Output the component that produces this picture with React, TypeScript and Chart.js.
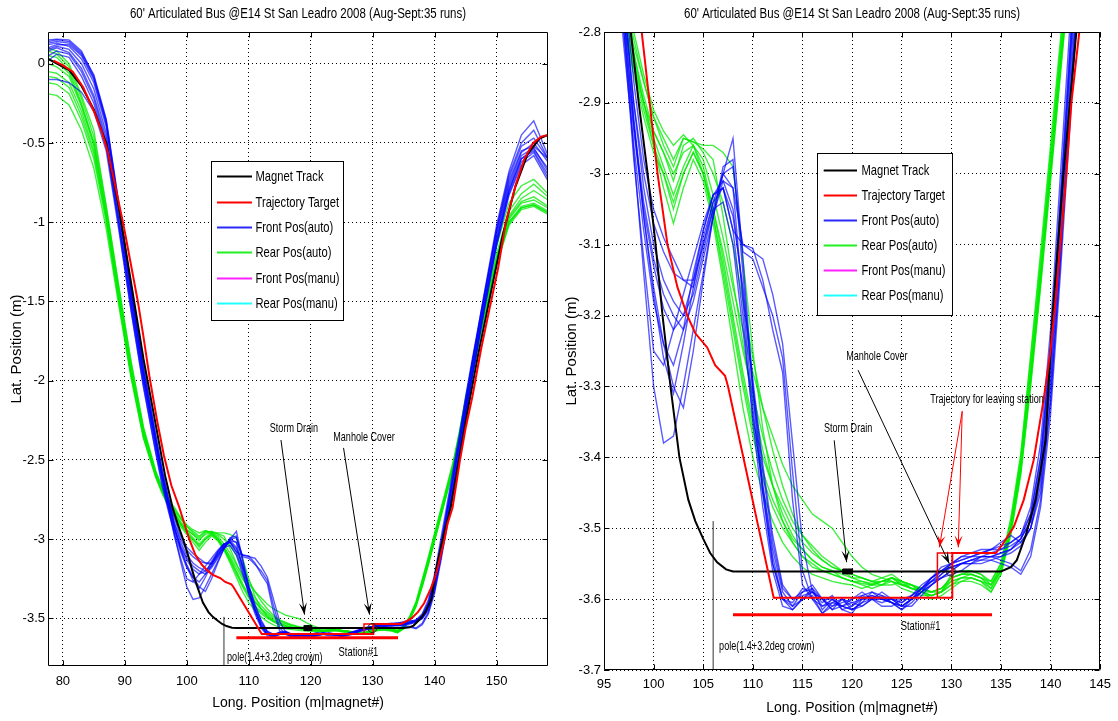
import React, { useEffect, useRef } from 'react';
import { Chart, registerables } from 'chart.js';

Chart.register(...registerables);

// ---------- text ----------
const titleText = "60' Articulated Bus @E14 St San Leadro 2008 (Aug-Sept:35 runs)";
const xAxisTitle = 'Long. Position (m|magnet#)';
const yAxisTitle = 'Lat. Position (m)';
const legendLabels = ['Magnet Track', 'Trajectory Target', 'Front Pos(auto)', 'Rear Pos(auto)', 'Front Pos(manu)', 'Rear Pos(manu)'];
const legendColors = ['#000000', '#ff0000', '#2a2aff', '#22f022', '#ff22ff', '#22ffff'];

// ---------- ticks ----------
const leftXTicks = [80, 90, 100, 110, 120, 130, 140, 150];
const leftYTicks = [0, -0.5, -1, -1.5, -2, -2.5, -3, -3.5];
const rightXTicks = [95, 100, 105, 110, 115, 120, 125, 130, 135, 140, 145];
const rightYTicks = [-2.8, -2.9, -3, -3.1, -3.2, -3.3, -3.4, -3.5, -3.6, -3.7];

// ---------- data ----------
// common longitudinal sample positions of the recorded runs
const posX = [77.6, 79, 81, 83, 85, 87, 89, 91, 93, 95,
  96, 97, 98, 99, 100, 101, 102, 103, 104, 105,
  106, 107, 108, 109, 110, 111, 112, 113, 114, 115,
  116, 117, 118, 119, 120, 121, 122, 123, 124, 125,
  126, 127, 128, 129, 130, 131, 132, 133, 134, 135,
  136, 137, 138, 139, 140, 141, 142, 143, 144, 145,
  146, 148, 150, 152, 154, 156, 158.3];

// Front Pos(auto) runs
const front1 = [0.15, 0.155, 0.15, 0.08, -0.08, -0.36, -0.88, -1.42, -1.92, -2.36,
  -2.58, -2.78, -2.97, -3.14, -3.3, -3.38, -3.37, -3.3, -3.22, -3.14,
  -3.06, -3.0, -2.95, -3.12, -3.3, -3.44, -3.54, -3.6, -3.61, -3.59,
  -3.585, -3.615, -3.6, -3.61, -3.6, -3.595, -3.6, -3.6, -3.605, -3.61,
  -3.6, -3.59, -3.58, -3.565, -3.55, -3.545, -3.54, -3.54, -3.535, -3.53,
  -3.52, -3.51, -3.48, -3.4, -3.25, -3.04, -2.82, -2.6, -2.38, -2.14,
  -1.9, -1.45, -1.02, -0.68, -0.45, -0.36, -0.58];
const front2 = [0.12, 0.13, 0.11, 0.03, -0.12, -0.4, -0.92, -1.46, -1.95, -2.38,
  -2.6, -2.77, -2.93, -3.06, -3.17, -3.26, -3.31, -3.24, -3.16, -3.09,
  -3.04, -3.0, -3.02, -3.18, -3.33, -3.45, -3.55, -3.6, -3.605, -3.585,
  -3.59, -3.605, -3.595, -3.615, -3.61, -3.6, -3.595, -3.6, -3.6, -3.605,
  -3.595, -3.585, -3.575, -3.56, -3.555, -3.55, -3.545, -3.54, -3.54, -3.535,
  -3.53, -3.515, -3.49, -3.42, -3.27, -3.06, -2.84, -2.62, -2.4, -2.16,
  -1.93, -1.5, -1.08, -0.76, -0.56, -0.5, -0.62];
const front3 = [0.08, 0.1, 0.07, -0.03, -0.2, -0.47, -0.98, -1.52, -2.0, -2.42,
  -2.62, -2.8, -2.98, -3.12, -3.25, -3.27, -3.22, -3.17, -3.12, -3.07,
  -3.03, -3.02, -3.08, -3.2, -3.35, -3.47, -3.56, -3.61, -3.615, -3.6,
  -3.595, -3.62, -3.605, -3.6, -3.615, -3.605, -3.59, -3.595, -3.605, -3.615,
  -3.6, -3.59, -3.58, -3.57, -3.56, -3.55, -3.55, -3.545, -3.545, -3.54,
  -3.535, -3.525, -3.5, -3.44, -3.3, -3.1, -2.88, -2.66, -2.44, -2.2,
  -1.97, -1.54, -1.12, -0.8, -0.6, -0.54, -0.66];
const front4 = [0.05, 0.08, 0.06, -0.05, -0.22, -0.5, -1.02, -1.55, -2.03, -2.45,
  -2.64, -2.8, -2.94, -3.05, -3.13, -3.19, -3.22, -3.2, -3.15, -3.08,
  -3.03, -3.01, -3.05, -3.17, -3.3, -3.42, -3.52, -3.585, -3.6, -3.59,
  -3.58, -3.6, -3.61, -3.605, -3.6, -3.59, -3.6, -3.605, -3.6, -3.605,
  -3.595, -3.58, -3.57, -3.56, -3.55, -3.545, -3.54, -3.535, -3.53, -3.525,
  -3.52, -3.51, -3.47, -3.38, -3.22, -3.0, -2.78, -2.56, -2.34, -2.1,
  -1.88, -1.46, -1.06, -0.74, -0.55, -0.52, -0.6];
const front5 = [0.1, 0.12, 0.12, 0.05, -0.1, -0.38, -0.9, -1.44, -1.94, -2.37,
  -2.57, -2.73, -2.87, -2.98, -3.05, -3.09, -3.12, -3.15, -3.16, -3.1,
  -3.05, -3.04, -3.1, -3.22, -3.34, -3.44, -3.53, -3.59, -3.61, -3.6,
  -3.59, -3.6, -3.615, -3.61, -3.605, -3.6, -3.6, -3.61, -3.61, -3.6,
  -3.6, -3.59, -3.575, -3.565, -3.555, -3.55, -3.545, -3.545, -3.54, -3.54,
  -3.53, -3.52, -3.5, -3.43, -3.29, -3.08, -2.86, -2.63, -2.41, -2.17,
  -1.95, -1.52, -1.1, -0.78, -0.58, -0.53, -0.68];
const front6 = [0.02, 0.06, 0.04, -0.08, -0.25, -0.52, -1.0, -1.5, -1.98, -2.4,
  -2.6, -2.76, -2.9, -3.0, -3.07, -3.11, -3.14, -3.15, -3.15, -3.1,
  -3.04, -3.02, -3.08, -3.1, -3.105, -3.15, -3.22, -3.28, -3.46, -3.58,
  -3.6, -3.62, -3.61, -3.6, -3.61, -3.595, -3.59, -3.6, -3.605, -3.615,
  -3.605, -3.59, -3.57, -3.555, -3.55, -3.54, -3.535, -3.53, -3.53, -3.52,
  -3.51, -3.52, -3.5, -3.45, -3.32, -3.12, -2.9, -2.68, -2.46, -2.22,
  -1.99, -1.55, -1.14, -0.82, -0.62, -0.56, -0.72];
const front7 = [0.13, 0.14, 0.13, 0.06, -0.09, -0.37, -0.9, -1.45, -1.95, -2.38,
  -2.58, -2.75, -2.9, -3.02, -3.1, -3.15, -3.18, -3.2, -3.17, -3.11,
  -3.05, -3.0, -2.99, -3.11, -3.12, -3.16, -3.2, -3.26, -3.42, -3.56,
  -3.6, -3.61, -3.6, -3.615, -3.62, -3.6, -3.595, -3.6, -3.6, -3.61,
  -3.6, -3.585, -3.575, -3.57, -3.565, -3.56, -3.55, -3.55, -3.545, -3.55,
  -3.555, -3.565, -3.54, -3.47, -3.34, -3.14, -2.92, -2.7, -2.47, -2.23,
  -2.0, -1.56, -1.15, -0.83, -0.64, -0.58, -0.74];
const front8 = [-0.1, -0.1, -0.12, -0.18, -0.3, -0.55, -1.04, -1.56, -2.04, -2.46,
  -2.66, -2.82, -2.96, -3.08, -3.18, -3.24, -3.27, -3.22, -3.14, -3.08,
  -3.03, -3.02, -3.06, -3.16, -3.29, -3.41, -3.51, -3.58, -3.6, -3.595,
  -3.59, -3.6, -3.6, -3.61, -3.615, -3.61, -3.6, -3.595, -3.6, -3.61,
  -3.61, -3.595, -3.58, -3.57, -3.56, -3.55, -3.55, -3.54, -3.54, -3.535,
  -3.53, -3.515, -3.48, -3.4, -3.24, -3.03, -2.81, -2.58, -2.36, -2.12,
  -1.9, -1.48, -1.05, -0.72, -0.52, -0.47, -0.6];
const front9 = [0.14, 0.15, 0.14, 0.07, -0.07, -0.35, -0.87, -1.41, -1.9, -2.34,
  -2.55, -2.74, -2.92, -3.06, -3.16, -3.24, -3.3, -3.33, -3.25, -3.15,
  -3.06, -2.99, -2.98, -3.14, -3.31, -3.45, -3.55, -3.6, -3.615, -3.6,
  -3.585, -3.6, -3.615, -3.6, -3.605, -3.61, -3.6, -3.59, -3.6, -3.6,
  -3.595, -3.585, -3.57, -3.56, -3.55, -3.54, -3.54, -3.535, -3.53, -3.53,
  -3.525, -3.515, -3.49, -3.41, -3.26, -3.05, -2.83, -2.61, -2.39, -2.15,
  -1.91, -1.47, -1.04, -0.7, -0.5, -0.42, -0.6];
const front10 = [0.09, 0.11, 0.09, 0.0, -0.16, -0.44, -0.96, -1.5, -1.99, -2.41,
  -2.61, -2.78, -2.93, -3.04, -3.12, -3.17, -3.2, -3.22, -3.18, -3.12,
  -3.06, -3.01, -3.02, -3.1, -3.11, -3.12, -3.17, -3.24, -3.38, -3.52,
  -3.59, -3.61, -3.605, -3.61, -3.615, -3.605, -3.6, -3.6, -3.605, -3.61,
  -3.6, -3.585, -3.57, -3.56, -3.555, -3.55, -3.545, -3.54, -3.54, -3.545,
  -3.55, -3.56, -3.53, -3.46, -3.32, -3.12, -2.9, -2.68, -2.45, -2.21,
  -1.98, -1.53, -1.12, -0.8, -0.6, -0.55, -0.7];

// Rear Pos(auto) runs
const rear1 = [0.1, 0.08, 0.0, -0.2, -0.42, -0.9, -1.4, -1.88, -2.3, -2.58,
  -2.67, -2.75, -2.8, -2.86, -2.91, -2.94, -2.96, -2.945, -2.96, -3.0,
  -3.06, -3.14, -3.22, -3.3, -3.37, -3.43, -3.47, -3.5, -3.52, -3.54,
  -3.55, -3.56, -3.565, -3.57, -3.575, -3.578, -3.58, -3.575, -3.575, -3.58,
  -3.585, -3.585, -3.59, -3.585, -3.575, -3.57, -3.565, -3.57, -3.575, -3.55,
  -3.49, -3.4, -3.26, -3.12, -2.97, -2.82, -2.67, -2.52, -2.33, -2.12,
  -1.92, -1.55, -1.22, -0.96, -0.85, -0.8, -0.86];
const rear2 = [-0.19, -0.2, -0.26, -0.42, -0.66, -1.04, -1.52, -1.98, -2.36, -2.61,
  -2.7, -2.77, -2.83, -2.9, -2.96, -3.02, -3.07, -3.02, -2.98, -3.01,
  -3.07, -3.15, -3.24, -3.33, -3.4, -3.45, -3.49, -3.52, -3.54, -3.555,
  -3.565, -3.57, -3.575, -3.578, -3.58, -3.585, -3.58, -3.575, -3.57, -3.578,
  -3.585, -3.59, -3.595, -3.59, -3.58, -3.575, -3.57, -3.575, -3.58, -3.56,
  -3.5, -3.41, -3.28, -3.14, -2.99, -2.84, -2.69, -2.54, -2.35, -2.15,
  -1.95, -1.58, -1.25, -1.0, -0.9, -0.88, -0.93];
const rear3 = [0.05, 0.04, -0.04, -0.25, -0.5, -0.94, -1.44, -1.92, -2.32, -2.59,
  -2.68, -2.76, -2.82, -2.87, -2.92, -2.96, -2.99, -2.95, -2.955, -2.96,
  -2.96, -2.97, -2.99, -3.12, -3.25, -3.36, -3.44, -3.49, -3.52, -3.54,
  -3.555, -3.56, -3.565, -3.57, -3.575, -3.575, -3.58, -3.58, -3.575, -3.58,
  -3.58, -3.585, -3.59, -3.585, -3.57, -3.565, -3.56, -3.565, -3.58, -3.555,
  -3.495, -3.405, -3.27, -3.13, -2.98, -2.83, -2.68, -2.53, -2.34, -2.13,
  -1.93, -1.56, -1.2, -0.93, -0.82, -0.76, -0.84];
const rear4 = [-0.05, -0.06, -0.12, -0.3, -0.55, -0.97, -1.47, -1.95, -2.34, -2.6,
  -2.7, -2.78, -2.85, -2.9, -2.94, -2.97, -3.0, -2.97, -2.96, -2.98,
  -3.03, -3.09, -3.16, -3.22, -3.28, -3.33, -3.37, -3.41, -3.44, -3.46,
  -3.48, -3.49, -3.5, -3.52, -3.54, -3.555, -3.565, -3.57, -3.575, -3.585,
  -3.59, -3.595, -3.595, -3.59, -3.57, -3.565, -3.565, -3.57, -3.585, -3.56,
  -3.505, -3.42, -3.29, -3.15, -3.0, -2.85, -2.7, -2.55, -2.37, -2.17,
  -1.97, -1.6, -1.27, -1.02, -0.92, -0.9, -0.95];
const rear5 = [0.0, -0.02, -0.08, -0.27, -0.52, -0.95, -1.45, -1.93, -2.32, -2.59,
  -2.69, -2.77, -2.84, -2.9, -2.95, -2.99, -3.03, -2.99, -2.96, -2.99,
  -3.05, -3.12, -3.2, -3.28, -3.35, -3.4, -3.44, -3.47, -3.5, -3.52,
  -3.535, -3.545, -3.555, -3.56, -3.565, -3.57, -3.575, -3.57, -3.565, -3.575,
  -3.58, -3.585, -3.59, -3.59, -3.575, -3.57, -3.57, -3.575, -3.59, -3.565,
  -3.5, -3.415, -3.285, -3.145, -2.995, -2.845, -2.695, -2.545, -2.36, -2.16,
  -1.96, -1.58, -1.24, -0.98, -0.88, -0.86, -0.91];
const rear6 = [0.08, 0.06, -0.02, -0.22, -0.46, -0.9, -1.4, -1.88, -2.29, -2.57,
  -2.67, -2.75, -2.81, -2.87, -2.92, -2.95, -2.98, -2.95, -2.955, -2.965,
  -2.98, -3.06, -3.15, -3.24, -3.32, -3.39, -3.44, -3.48, -3.51, -3.53,
  -3.545, -3.555, -3.56, -3.565, -3.57, -3.57, -3.575, -3.58, -3.58, -3.575,
  -3.58, -3.59, -3.595, -3.59, -3.565, -3.56, -3.56, -3.565, -3.575, -3.55,
  -3.485, -3.395, -3.255, -3.11, -2.96, -2.81, -2.66, -2.51, -2.32, -2.11,
  -1.9, -1.5, -1.15, -0.88, -0.77, -0.73, -0.82];
const rear7 = [-0.12, -0.13, -0.19, -0.36, -0.6, -1.0, -1.5, -1.97, -2.36, -2.61,
  -2.71, -2.79, -2.86, -2.92, -2.97, -3.0, -3.04, -3.0, -2.97, -3.0,
  -3.06, -3.13, -3.21, -3.29, -3.36, -3.42, -3.46, -3.49, -3.515, -3.53,
  -3.545, -3.555, -3.56, -3.57, -3.575, -3.58, -3.585, -3.58, -3.57, -3.575,
  -3.585, -3.59, -3.6, -3.595, -3.585, -3.575, -3.575, -3.58, -3.59, -3.565,
  -3.51, -3.425, -3.3, -3.16, -3.01, -2.86, -2.71, -2.56, -2.38, -2.18,
  -1.98, -1.6, -1.26, -1.0, -0.91, -0.89, -0.94];
const rear8 = [0.03, 0.01, -0.06, -0.26, -0.5, -0.93, -1.43, -1.91, -2.31, -2.58,
  -2.68, -2.76, -2.83, -2.89, -2.94, -2.97, -3.01, -2.96, -2.95, -2.97,
  -3.0, -3.04, -3.1, -3.18, -3.26, -3.33, -3.39, -3.44, -3.48, -3.51,
  -3.53, -3.545, -3.555, -3.56, -3.57, -3.575, -3.578, -3.575, -3.57, -3.58,
  -3.585, -3.59, -3.59, -3.585, -3.57, -3.565, -3.565, -3.57, -3.58, -3.555,
  -3.497, -3.41, -3.28, -3.14, -2.99, -2.84, -2.69, -2.54, -2.35, -2.14,
  -1.94, -1.57, -1.23, -0.97, -0.87, -0.84, -0.9];
const rear9 = [-0.08, -0.09, -0.15, -0.33, -0.57, -0.98, -1.48, -1.96, -2.35, -2.6,
  -2.7, -2.78, -2.85, -2.91, -2.96, -3.0, -3.05, -3.0, -2.97, -3.0,
  -3.05, -3.11, -3.18, -3.25, -3.31, -3.37, -3.42, -3.46, -3.49, -3.51,
  -3.525, -3.54, -3.55, -3.56, -3.565, -3.57, -3.575, -3.575, -3.57, -3.575,
  -3.58, -3.59, -3.595, -3.59, -3.58, -3.57, -3.57, -3.575, -3.585, -3.56,
  -3.505, -3.42, -3.295, -3.155, -3.005, -2.855, -2.705, -2.555, -2.37, -2.17,
  -1.97, -1.59, -1.26, -1.01, -0.91, -0.89, -0.94];

// Magnet Track
const magnetX = [77.6, 81, 83, 85, 87, 89, 91, 93, 95, 96.5, 97.7, 98.5, 99.4, 100.2, 100.9,
  101.7, 102.6, 103.5, 104.2, 105, 105.7, 106.4, 107.3, 108, 135, 136, 136.6, 137.5, 138.5,
  139.5, 140.2, 141.3, 142.6, 143.4, 145, 147, 149, 151, 153, 155, 157, 158.3];
const magnetY = [0.03, -0.04, -0.14, -0.29, -0.5, -0.9, -1.38, -1.86, -2.28, -2.6, -2.8, -2.9, -3.0, -3.1, -3.2,
  -3.3, -3.4, -3.46, -3.49, -3.515, -3.535, -3.548, -3.558, -3.561, -3.561, -3.555, -3.545, -3.51, -3.46,
  -3.376, -3.2, -3.0, -2.8, -2.62, -2.26, -1.84, -1.46, -1.08, -0.78, -0.57, -0.47, -0.45];

// Trajectory Target
const targetX = [78.5, 80, 81.6, 83.3, 85, 86.2, 87.2, 88.5, 89.8, 91, 92.1, 93, 94, 95.2, 96.3,
  97.5, 98.8, 99.6, 100.4, 101.4, 102.4, 103.4, 104.2, 105.4, 106.2, 107.2, 107.5, 112.1, 130.1,
  130.1, 134.5, 135.1, 136.3, 137.3, 138.3, 139.3, 140, 140.5, 141.6, 142.1, 142.9, 143.5, 144.1,
  145, 146.1, 147.5, 149, 150.2, 151.5, 153.2, 154.5, 155.9, 157.2, 158.3];
const targetY = [0.02, -0.01, -0.05, -0.15, -0.3, -0.42, -0.55, -0.78, -1.02, -1.27, -1.5, -1.72, -1.98, -2.25, -2.47,
  -2.66, -2.8, -2.9, -3.0, -3.1, -3.16, -3.2, -3.225, -3.245, -3.27, -3.285, -3.3, -3.598, -3.598,
  -3.535, -3.535, -3.524, -3.498, -3.46, -3.404, -3.319, -3.249, -3.18, -3.0, -2.9, -2.8, -2.65, -2.5,
  -2.3, -2.1, -1.8, -1.52, -1.3, -1.0, -0.75, -0.6, -0.5, -0.46, -0.45];

// trajectory for leaving station (alternative target step)
const leaveX = [128.6, 128.6, 130.1];
const leaveY = [-3.598, -3.535, -3.535];

// station platform, pole, storm drain and manhole cover
const stationX = [108, 134.1];
const stationY = [-3.622, -3.622];
const poleX = [106, 106];
const poleY = [-3.8, -3.49];
const drainX = [119.3, 119.8];
const drainY = [-3.561, -3.561];
const manholeX = [129.95];
const manholeY = [-3.561];

const frontRuns = [front1, front2, front3, front4, front5, front6, front7, front8, front9, front10];
const rearRuns = [rear1, rear2, rear3, rear4, rear5, rear6, rear7, rear8, rear9];

// ---------- fonts ----------
const NARROW_OK = (() => {
  try {
    const c = document.createElement('canvas').getContext('2d') as CanvasRenderingContext2D;
    const s = 'abcdefghijklmnopqrstuvwxyz0123456789ABCDEFG';
    c.font = '40px monospace';
    const a = c.measureText(s).width;
    c.font = '40px "Liberation Sans Narrow", monospace';
    const b = c.measureText(s).width;
    return Math.abs(a - b) > 1;
  } catch (e) {
    return false;
  }
})();
const FAMILY = '"Liberation Sans Narrow", "Liberation Sans", Arial, sans-serif';

// condensed text: squeeze < 1 narrows glyphs horizontally (taller look at same width)
function drawText(ctx: any, text: string, x: number, y: number, size: number, align: string, color: string, squeeze = 1) {
  ctx.save();
  ctx.fillStyle = color;
  ctx.textBaseline = 'middle';
  ctx.textAlign = align;
  ctx.translate(x, y);
  if (NARROW_OK) {
    ctx.font = `${size}px "Liberation Sans Narrow"`;
    ctx.scale(squeeze, 1);
  } else {
    ctx.font = `${size}px "Liberation Sans", Arial, sans-serif`;
    ctx.scale(0.82 * squeeze, 1);
  }
  ctx.fillText(text, 0, 0);
  ctx.restore();
}

function drawArrow(ctx: any, x1: number, y1: number, x2: number, y2: number, color: string) {
  ctx.save();
  ctx.strokeStyle = color;
  ctx.fillStyle = color;
  ctx.lineWidth = 1;
  ctx.beginPath();
  ctx.moveTo(x1, y1);
  ctx.lineTo(x2, y2);
  ctx.stroke();
  const ang = Math.atan2(y2 - y1, x2 - x1);
  const L = 12;
  const W = 4;
  const c = Math.cos(ang);
  const s = Math.sin(ang);
  const bx = x2 - L * c;
  const by = y2 - L * s;
  const mx = x2 - 0.55 * L * c;
  const my = y2 - 0.55 * L * s;
  ctx.beginPath();
  ctx.moveTo(x2, y2);
  ctx.lineTo(bx - W * s, by + W * c);
  ctx.lineTo(mx, my);
  ctx.lineTo(bx + W * s, by - W * c);
  ctx.closePath();
  ctx.fill();
  ctx.restore();
}

const decorPlugin = {
  id: 'decor',
  afterDatasetsDraw(chart: any) {
    const o = chart.options.plugins.decor;
    if (!o) return;
    const ctx = chart.ctx;
    const xs = chart.scales.x;
    const ys = chart.scales.y;
    const a = chart.chartArea;

    // box + inward ticks
    ctx.save();
    ctx.strokeStyle = '#000';
    ctx.lineWidth = 1;
    const L = Math.round(a.left) + 0.5;
    const T = Math.round(a.top) + 0.5;
    const R = Math.round(a.right) - 0.5;
    const B = Math.round(a.bottom) - 0.5;
    ctx.beginPath();
    ctx.rect(L, T, R - L, B - T);
    for (const t of xs.ticks) {
      const px = Math.round(xs.getPixelForValue(t.value)) + 0.5;
      ctx.moveTo(px, B); ctx.lineTo(px, B - 5);
      ctx.moveTo(px, T); ctx.lineTo(px, T + 5);
    }
    for (const t of ys.ticks) {
      const py = Math.round(ys.getPixelForValue(t.value)) + 0.5;
      ctx.moveTo(L, py); ctx.lineTo(L + 5, py);
      ctx.moveTo(R, py); ctx.lineTo(R - 5, py);
    }
    ctx.stroke();
    ctx.restore();

    // annotations
    for (const n of o.notes) {
      if (n.kind === 'text') {
        drawText(ctx, n.text, xs.getPixelForValue(n.x), ys.getPixelForValue(n.y), n.size, n.align, n.color || '#000', 0.85);
      } else {
        drawArrow(ctx, xs.getPixelForValue(n.x1), ys.getPixelForValue(n.y1), xs.getPixelForValue(n.x2), ys.getPixelForValue(n.y2), n.color || '#000');
      }
    }

    // legend
    const lg = o.legend;
    ctx.save();
    ctx.fillStyle = '#fff';
    ctx.fillRect(lg.x, lg.y, lg.w, lg.h);
    ctx.strokeStyle = '#000';
    ctx.lineWidth = 1;
    ctx.strokeRect(lg.x + 0.5, lg.y + 0.5, lg.w, lg.h);
    legendLabels.forEach((lab, i) => {
      const yy = Math.round(lg.y + lg.first + i * lg.gap) + 0.5;
      ctx.strokeStyle = legendColors[i];
      ctx.lineWidth = 2;
      ctx.beginPath();
      ctx.moveTo(lg.x + lg.line0, yy);
      ctx.lineTo(lg.x + lg.line1, yy);
      ctx.stroke();
      drawText(ctx, lab, lg.x + lg.text, yy, 15, 'left', '#000', 0.91);
    });
    ctx.restore();

    // title
    drawText(ctx, titleText, (a.left + a.right) / 2, 14, 14, 'center', '#000');
  },
};

const panels = [
  {
    key: 'left', left: 0, width: 560,
    xMin: 77.6, xMax: 158.3, yMin: -3.8, yMax: 0.2,
    xTicks: leftXTicks, yTicks: leftYTicks,
    yAxisWidth: 48, padRight: 12, xAxisHeight: 55,
    xTickPad: 8, xTitlePad: 9.6, yTitlePad: 8,
    legend: { x: 211, y: 161, w: 132, h: 159, first: 15.3, gap: 25.3, line0: 6, line1: 41, text: 44.5 },
    notes: [
      { kind: 'text', text: 'Storm Drain', x: 117.3, y: -2.298, size: 13, align: 'center' },
      { kind: 'arrow', x1: 115.2, y1: -2.374, x2: 119.0, y2: -3.476 },
      { kind: 'text', text: 'Manhole Cover', x: 128.6, y: -2.355, size: 13, align: 'center' },
      { kind: 'arrow', x1: 125.3, y1: -2.424, x2: 129.5, y2: -3.476 },
      { kind: 'text', text: 'pole(1.4+3.2deg crown)', x: 106.5, y: -3.745, size: 13, align: 'left' },
      { kind: 'text', text: 'Station#1', x: 127.7, y: -3.713, size: 13.5, align: 'center' },
    ],
  },
  {
    key: 'right', left: 560, width: 558,
    xMin: 95, xMax: 145, yMin: -3.7, yMax: -2.8,
    xTicks: rightXTicks, yTicks: rightYTicks,
    yAxisWidth: 44, padRight: 13, xAxisHeight: 51,
    xTickPad: 7, xTitlePad: 4.6, yTitlePad: 3,
    legend: { x: 257, y: 153, w: 135, h: 162, first: 17.4, gap: 25, line0: 6.7, line1: 40, text: 44.4 },
    notes: [
      { kind: 'text', text: 'Storm Drain', x: 119.6, y: -3.359, size: 13, align: 'center' },
      { kind: 'arrow', x1: 118.2, y1: -3.376, x2: 119.45, y2: -3.548 },
      { kind: 'text', text: 'Manhole Cover', x: 122.5, y: -3.258, size: 13, align: 'center' },
      { kind: 'arrow', x1: 120.6, y1: -3.277, x2: 129.8, y2: -3.55 },
      { kind: 'text', text: 'Trajectory for leaving station', x: 133.6, y: -3.319, size: 13, align: 'center' },
      { kind: 'arrow', x1: 131.1, y1: -3.335, x2: 128.8, y2: -3.527, color: '#ff0000' },
      { kind: 'arrow', x1: 131.1, y1: -3.335, x2: 130.7, y2: -3.527, color: '#ff0000' },
      { kind: 'text', text: 'pole(1.4+3.2deg crown)', x: 106.6, y: -3.667, size: 13, align: 'left' },
      { kind: 'text', text: 'Station#1', x: 126.9, y: -3.638, size: 13.5, align: 'center' },
    ],
  },
];

function zip(xs: number[], ys: number[]) {
  return xs.map((x, i) => ({ x, y: ys[i] }));
}

function buildDatasets() {
  const line = (label: string, data: any[], color: string, width: number, extra: any = {}) => ({
    label, data, borderColor: color, backgroundColor: color, borderWidth: width,
    pointRadius: 0, fill: false, tension: 0, ...extra,
  });
  return [
    line('drain', zip(drainX, drainY), '#000', 1, { showLine: false, pointRadius: 3.5, pointStyle: 'rect', pointBackgroundColor: '#000', pointBorderColor: '#000' }),
    line('manhole', zip(manholeX, manholeY), '#222', 1, { showLine: false, pointRadius: 4.5, pointStyle: 'circle', pointBackgroundColor: 'rgba(0,0,0,0)', pointBorderColor: '#222', pointBorderWidth: 1 }),
    line('leave', zip(leaveX, leaveY), '#ff0000', 1.5),
    line('Trajectory Target', zip(targetX, targetY), '#ff0000', 2),
    line('Magnet Track', zip(magnetX, magnetY), '#000000', 2),
    line('station', zip(stationX, stationY), '#ff0000', 3),
    line('pole', zip(poleX, poleY), '#333333', 1),
    ...frontRuns.map((r) => line('Front Pos(auto)', zip(posX, r), 'rgba(0,0,255,0.65)', 1.4)),
    ...rearRuns.map((r) => line('Rear Pos(auto)', zip(posX, r), 'rgba(0,235,0,0.75)', 1.4)),
    line('Front Pos(manu)', [], '#ff00ff', 1),
    line('Rear Pos(manu)', [], '#00ffff', 1),
  ];
}

function buildConfig(p: any): any {
  const tickFont = { family: FAMILY, size: 13 };
  const fmt = (v: any) => String(Math.round(Number(v) * 1000) / 1000);
  return {
    type: 'line',
    data: { datasets: buildDatasets() },
    plugins: [decorPlugin],
    options: {
      animation: false,
      responsive: false,
      devicePixelRatio: 1,
      layout: { padding: { top: 32, right: p.padRight, bottom: 0, left: 0 } },
      plugins: {
        legend: { display: false },
        tooltip: { enabled: false },
        title: { display: false },
        decor: { legend: p.legend, notes: p.notes },
      },
      scales: {
        x: {
          type: 'linear', min: p.xMin, max: p.xMax,
          afterBuildTicks: (s: any) => { s.ticks = p.xTicks.map((v: number) => ({ value: v })); },
          afterFit: (s: any) => { s.height = p.xAxisHeight; },
          grid: { color: '#000', lineWidth: 1, drawTicks: false },
          border: { display: false, dash: [1, 3] },
          ticks: { color: '#000', font: tickFont, padding: p.xTickPad, maxRotation: 0, minRotation: 0, autoSkip: false, callback: fmt },
          title: { display: true, text: xAxisTitle, color: '#000', font: { family: FAMILY, size: 14 }, padding: { top: 0, bottom: p.xTitlePad } },
        },
        y: {
          type: 'linear', min: p.yMin, max: p.yMax,
          afterBuildTicks: (s: any) => { s.ticks = p.yTicks.map((v: number) => ({ value: v })); },
          afterFit: (s: any) => { s.width = p.yAxisWidth; },
          grid: { color: '#000', lineWidth: 1, drawTicks: false },
          border: { display: false, dash: [1, 3] },
          ticks: { color: '#000', font: tickFont, padding: 3, autoSkip: false, callback: fmt },
          title: { display: true, text: yAxisTitle, color: '#000', font: { family: FAMILY, size: 15 }, padding: { top: p.yTitlePad, bottom: 0 } },
        },
      },
    },
  };
}

function Panel({ cfg }: { cfg: any }) {
  const ref = useRef<HTMLCanvasElement>(null);
  useEffect(() => {
    const chart = new Chart(ref.current as HTMLCanvasElement, buildConfig(cfg));
    return () => chart.destroy();
  }, [cfg]);
  return (
    <canvas
      ref={ref}
      width={cfg.width}
      height={721}
      style={{ position: 'absolute', left: cfg.left, top: 0, width: cfg.width, height: 721 }}
    />
  );
}

export default function App() {
  return (
    <div style={{ position: 'fixed', left: 0, top: 0, width: 1118, height: 721, background: '#fff', overflow: 'hidden' }}>
      {panels.map((p) => <Panel key={p.key} cfg={p} />)}
    </div>
  );
}
